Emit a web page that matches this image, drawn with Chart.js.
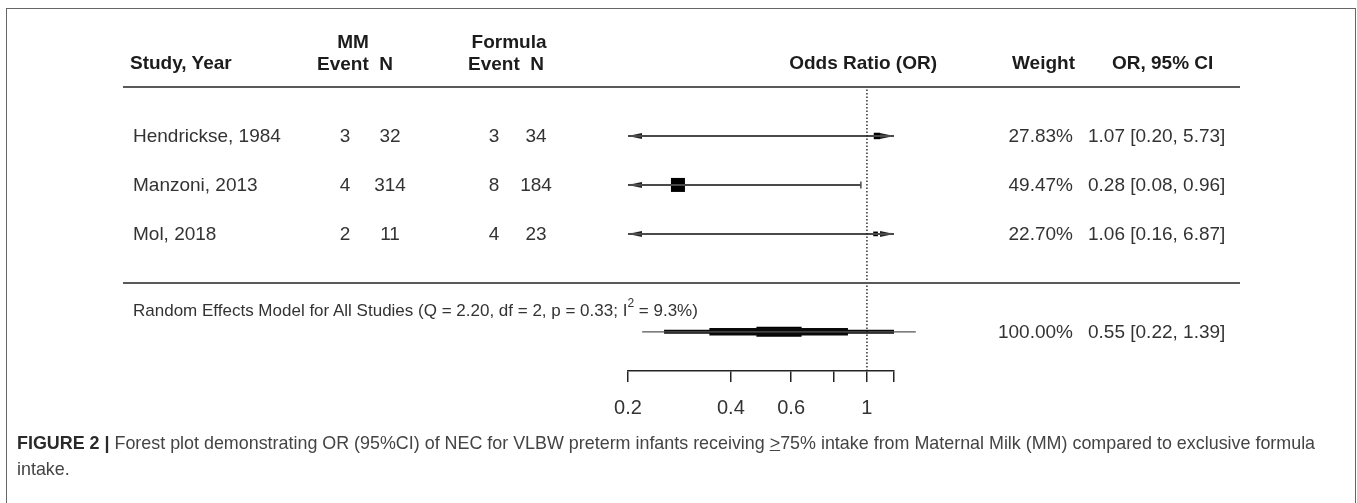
<!DOCTYPE html>
<html>
<head>
<meta charset="utf-8">
<script src="https://cdn.jsdelivr.net/npm/chart.js@4.4.1/dist/chart.umd.min.js"></script>
<style>
  body { margin: 0; width: 1357px; height: 503px; overflow: hidden; background: #fff;
         font-family: "Liberation Sans", Arial, sans-serif; }
  #frame { position: absolute; left: 6px; top: 8px; width: 1350px; height: 560px;
           border: 1.5px solid #666; box-sizing: border-box; }
  #plot { position: absolute; left: 0; top: 0; }
  .t { position: absolute; white-space: nowrap; color: #333; font-size: 19px; transform: translateY(-50%); }
  .h { font-weight: bold; color: #1c1c1c; }
  .r { transform: translate(-100%, -50%); }
  .c { transform: translate(-50%, -50%); }
  .small { font-size: 17px; }
  .rule { position: absolute; left: 123px; width: 1117px; height: 0; border-top: 2px solid #5a5a5a; }
  #caption { position: absolute; left: 17px; top: 430px; font-size: 17.9px; line-height: 26px;
             color: #444; white-space: nowrap; }
  #caption b { color: #2a2a2a; }
</style>
</head>
<body>
<div id="frame"></div>
<canvas id="plot" width="1357" height="503"></canvas>
<div id="caption"><b>FIGURE 2 |</b> Forest plot demonstrating OR (95%CI) of NEC for VLBW preterm infants receiving <u>&gt;</u>75% intake from Maternal Milk (MM) compared to exclusive formula<br>intake.</div>
<script>
// study table
const studies = ['Hendrickse, 1984', 'Manzoni, 2013', 'Mol, 2018'];
const mmEvents = [3, 4, 2];
const mmN = [32, 314, 11];
const fEvents = [3, 8, 4];
const fN = [34, 184, 23];
const orVals = [1.07, 0.28, 1.06];
const ciLow = [0.20, 0.08, 0.16];
const ciHigh = [5.73, 0.96, 6.87];
const weights = [27.83, 49.47, 22.70];

// pooled (random effects) estimate
const pooledOR = 0.55;
const pooledLow = 0.22;
const pooledHigh = 1.39;
const pooledWeight = 100.00;
// nested bands drawn for the pooled estimate, widest first
const bandLow = [0.22, 0.255, 0.346, 0.475];
const bandHigh = [1.39, 1.2, 0.88, 0.644];

// axis
const tickVals = [0.2, 0.4, 0.6, 0.8, 1, 1.2];
const tickLabels = ['0.2', '0.4', '0.6', '', '1', ''];

const xMin = 0.2, xMax = 1.2;
const yMin = 0.2, yMax = 6;
const rowY = [5, 4, 3];
const pooledY = 1;

// little arrow heads, tip sits at the canvas centre
function arrow(dir) {
    const c = document.createElement('canvas');
    c.width = 32; c.height = 8;
    const g = c.getContext('2d');
    g.fillStyle = '#222';
    g.beginPath();
    if (dir < 0) { g.moveTo(16, 4); g.lineTo(30, 1); g.lineTo(30, 7); }
    else { g.moveTo(16, 4); g.lineTo(2, 1); g.lineTo(2, 7); }
    g.closePath();
    g.fill();
    return c;
}
const leftArrow = arrow(-1), rightArrow = arrow(1);

const datasets = [];

// reference line at OR = 1
datasets.push({
    type: 'line',
    data: [{ x: 1, y: yMin }, { x: 1, y: yMax }],
    borderColor: '#222', borderWidth: 1.4, borderDash: [1.5, 2],
    pointRadius: 0, clip: false
});

// study CIs
studies.forEach((s, i) => {
    datasets.push({
        type: 'line',
        data: [{ x: Math.max(ciLow[i], xMin), y: rowY[i] }, { x: Math.min(ciHigh[i], xMax), y: rowY[i] }],
        borderColor: '#4a4a4a', borderWidth: 2,
        pointRadius: 0
    });
    const ends = [], styles = [], rot = [];
    if (ciLow[i] <= xMin) { ends.push({ x: xMin, y: rowY[i] }); styles.push(leftArrow); rot.push(0); }
    else { ends.push({ x: ciLow[i], y: rowY[i] }); styles.push('line'); rot.push(90); }
    if (ciHigh[i] >= xMax) { ends.push({ x: xMax, y: rowY[i] }); styles.push(rightArrow); rot.push(0); }
    else { ends.push({ x: ciHigh[i], y: rowY[i] }); styles.push('line'); rot.push(90); }
    datasets.push({
        type: 'scatter',
        data: ends,
        pointStyle: styles,
        rotation: rot,
        pointRadius: 3.5,
        borderColor: '#4a4a4a', borderWidth: 1.5,
        backgroundColor: '#222'
    });
});

// study squares, size from weight
const wMin = Math.min(...weights), wMax = Math.max(...weights);
datasets.push({
    type: 'scatter',
    data: orVals.map((v, i) => ({ x: v, y: rowY[i] })),
    pointStyle: 'rect',
    pointRadius: weights.map(w => (14 * (((w - wMin) / (wMax - wMin)) + 0.5) / 1.5) / Math.SQRT2),
    backgroundColor: '#000', borderWidth: 0
});

// pooled estimate bands
const bandWidth = [1.4, 4, 7.5, 10];
const bandColor = ['#555', '#0a0a0a', '#0a0a0a', '#000'];
bandLow.forEach((lo, k) => {
    datasets.push({
        type: 'line',
        data: [{ x: lo, y: pooledY }, { x: bandHigh[k], y: pooledY }],
        borderColor: bandColor[k], borderWidth: bandWidth[k], borderCapStyle: 'butt',
        pointRadius: 0, clip: false
    });
});

const chart = new Chart(document.getElementById('plot'), {
    type: 'scatter',
    data: { datasets },
    options: {
        responsive: false,
        animation: false,
        events: [],
        layout: { padding: { left: 628, right: 1357 - 894, top: 87, bottom: 87 } },
        plugins: { legend: { display: false }, tooltip: { enabled: false } },
        scales: {
            x: {
                type: 'logarithmic',
                min: xMin, max: xMax,
                afterBuildTicks: sc => { sc.ticks = tickVals.map(v => ({ value: v })); },
                afterFit: sc => { sc.height = 45; },
                ticks: {
                    autoSkip: false, maxRotation: 0, padding: 14,
                    color: '#333', font: { family: 'Liberation Sans', size: 20 },
                    callback: v => tickLabels[tickVals.indexOf(v)] ?? ''
                },
                grid: { drawOnChartArea: false, drawTicks: true, tickLength: 11, color: '#222', lineWidth: 1.5 },
                border: { display: true, color: '#222', width: 1.5 }
            },
            y: { type: 'linear', min: yMin, max: yMax, display: false }
        }
    }
});

// table text around the plot, rows follow the chart's y scale
const py = v => chart.scales.y.getPixelForValue(v);
function put(html, x, y, cls) {
    const d = document.createElement('div');
    d.className = 't ' + (cls || '');
    d.innerHTML = html;
    d.style.left = x + 'px';
    d.style.top = y + 'px';
    document.body.appendChild(d);
}
function rule(y) {
    const d = document.createElement('div');
    d.className = 'rule';
    d.style.top = (y - 1) + 'px';
    document.body.appendChild(d);
}

put('Study, Year', 130, py(6.49), 'h');
put('MM', 353, py(6.92), 'h c');
put('Event&nbsp; N', 317, py(6.47), 'h');
put('Formula', 509, py(6.92), 'h c');
put('Event&nbsp; N', 468, py(6.47), 'h');
put('Odds Ratio (OR)', 937, py(6.49), 'h r');
put('Weight', 1012, py(6.49), 'h');
put('OR, 95% CI', 1112, py(6.49), 'h');
rule(py(6));

studies.forEach((s, i) => {
    const y = py(rowY[i]);
    put(s, 133, y);
    put(mmEvents[i], 345, y, 'c');
    put(mmN[i], 390, y, 'c');
    put(fEvents[i], 494, y, 'c');
    put(fN[i], 536, y, 'c');
    put(weights[i].toFixed(2) + '%', 1073, y, 'r');
    put(orVals[i].toFixed(2) + ' [' + ciLow[i].toFixed(2) + ', ' + ciHigh[i].toFixed(2) + ']', 1088, y);
});
rule(py(2));

put('Random Effects Model for All Studies (Q = 2.20, df = 2, p = 0.33; I<sup style="font-size:12px;vertical-align:9px">2</sup> = 9.3%)', 133, py(1.49), 'small');
put(pooledWeight.toFixed(2) + '%', 1073, py(pooledY), 'r');
put(pooledOR.toFixed(2) + ' [' + pooledLow.toFixed(2) + ', ' + pooledHigh.toFixed(2) + ']', 1088, py(pooledY));
</script>
</body>
</html>
